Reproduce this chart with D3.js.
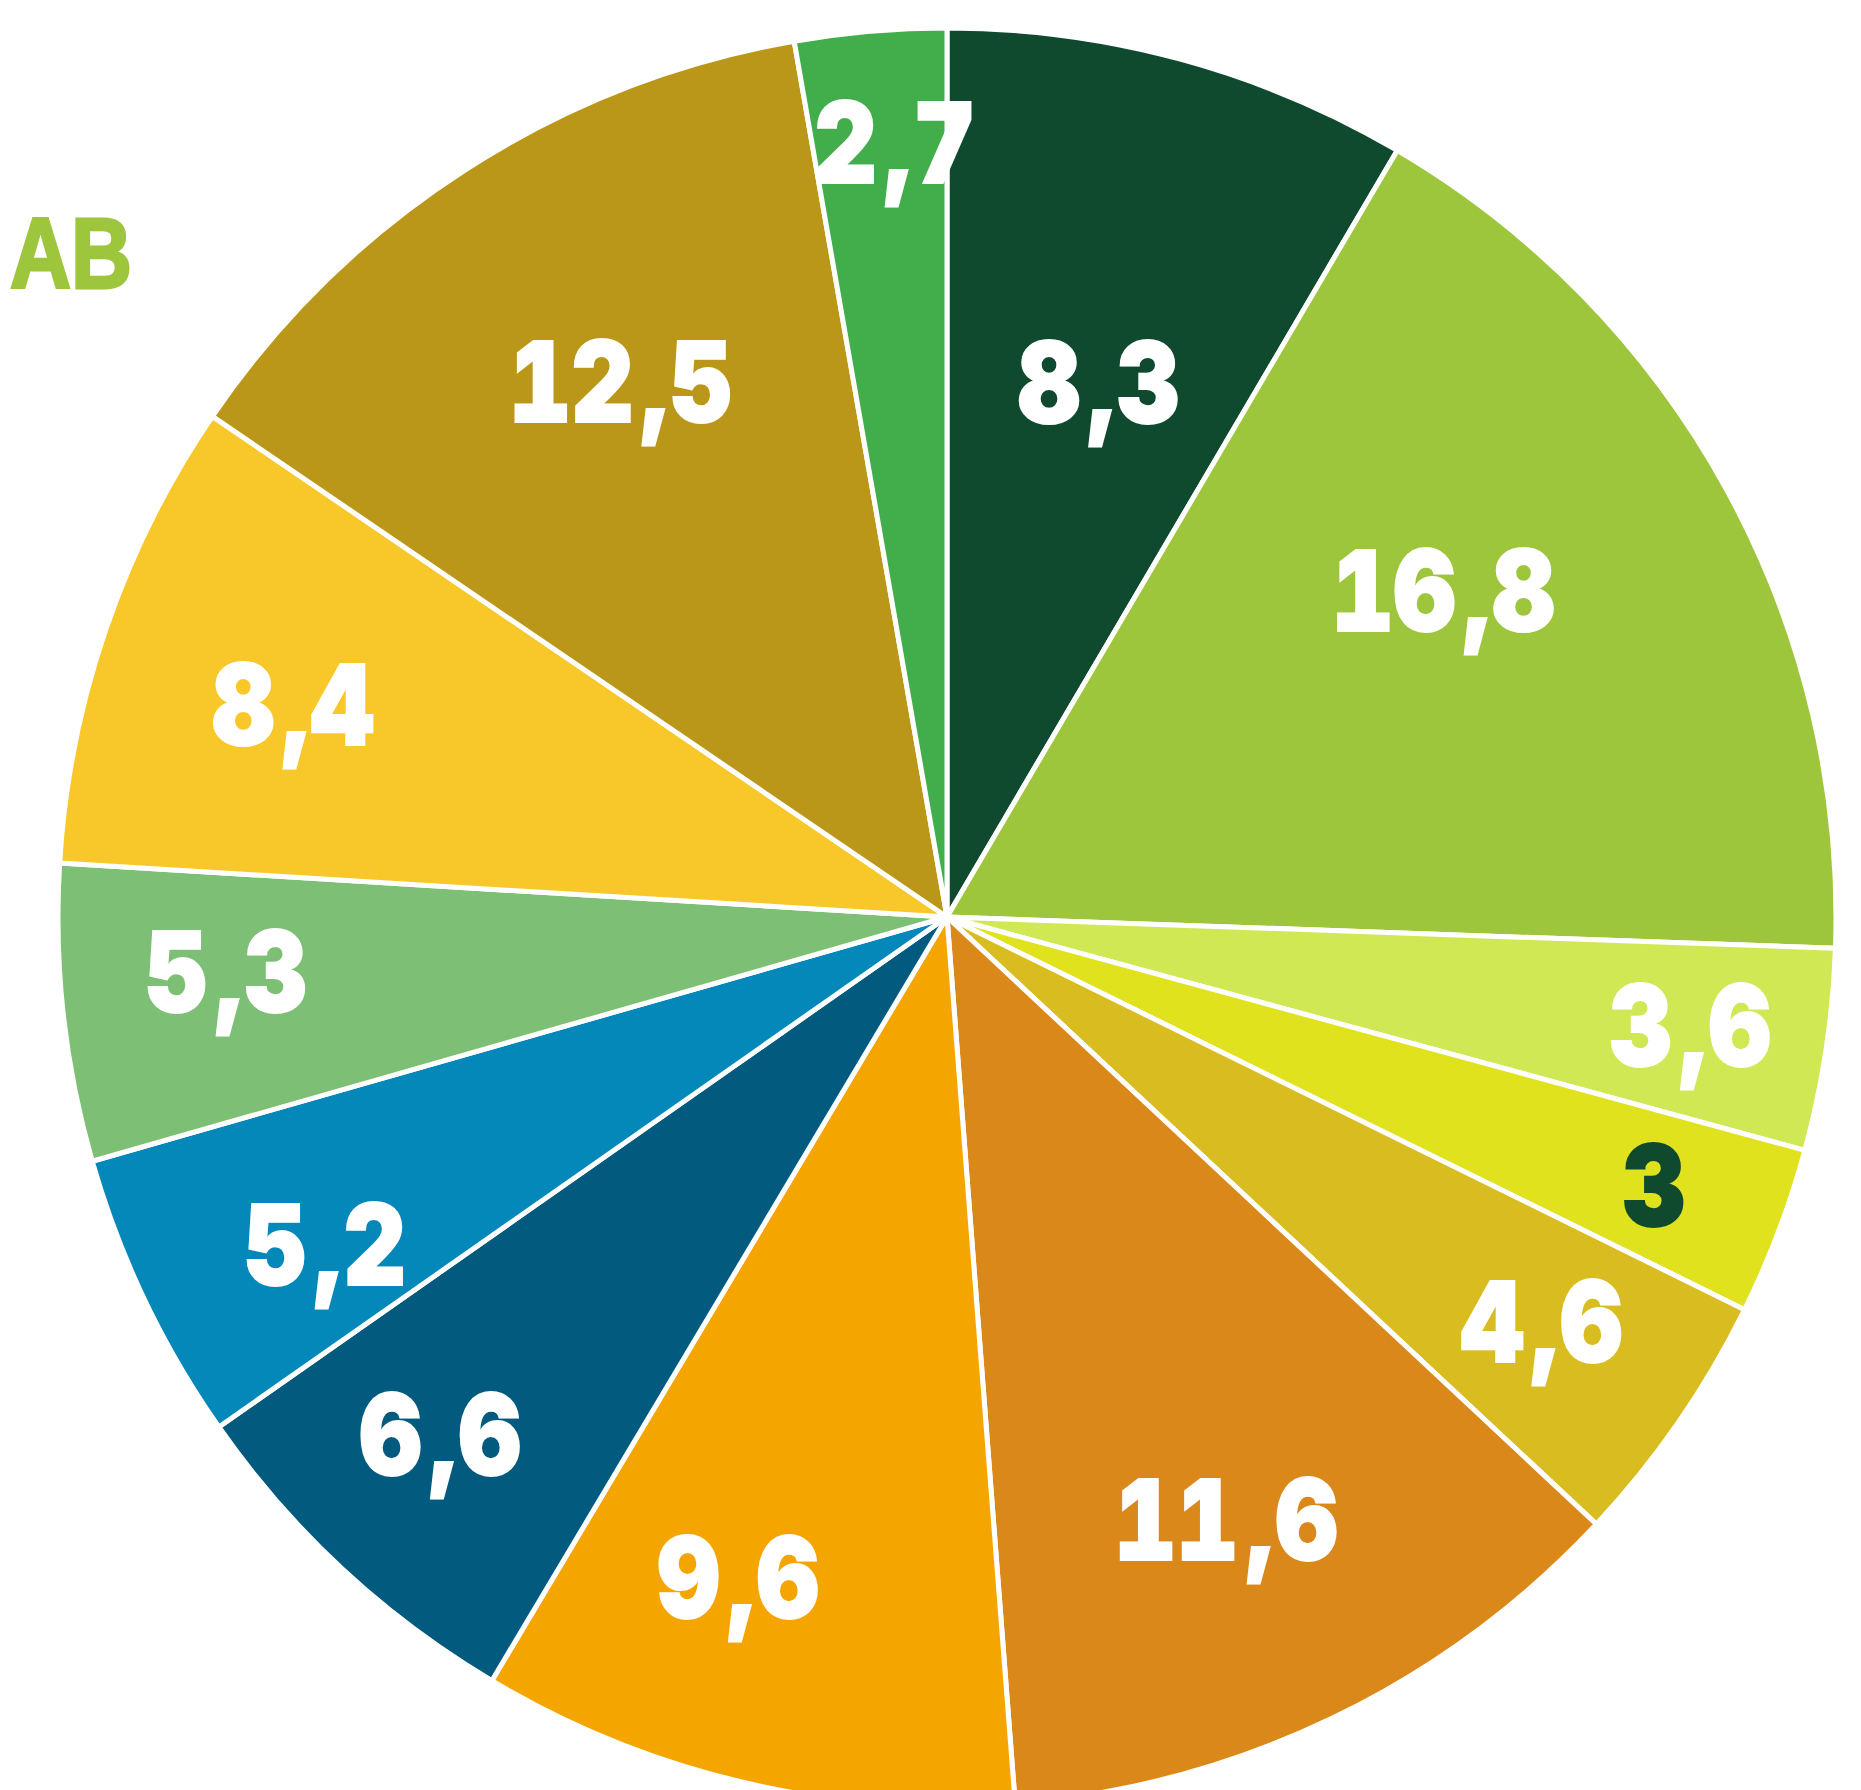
<!DOCTYPE html>
<html><head><meta charset="utf-8">
<script src="https://cdn.jsdelivr.net/npm/d3@7"></script>
<style>html,body{margin:0;padding:0;background:#fff;} svg{display:block}</style>
</head><body>
<script>
// ---- data ----
const values = [8.3, 16.8, 3.6, 3, 4.6, 11.6, 9.6, 6.6, 5.2, 5.3, 8.4, 12.5, 2.7];
const colors = ['#0f4a2e','#9dc63c','#cfe853','#dfe21c','#d9bd20','#db881a','#f5a500','#025b7e','#0388b9','#7dbf74','#f8c82a','#bb9719','#41ae4b'];
const labelColors = ['#fff','#fff','#fff','#0f4a2e','#fff','#fff','#fff','#fff','#fff','#fff','#fff','#fff','#fff'];
const title = 'AB';

// ---- layout (label placement relative to slice middle) ----
const labelRadius = [556, 594, 751, 756, 719, 664, 692, 724, 703, 723, 688, 627, 777];
const labelShift  = [0.6, -4.6, -0.35, 0.05, -0.46, 0.83, 4.37, 1.54, -2.3, 1.95, -0.85, 1.45, 1.11];

const W = 1861, H = 1790;
const cx = 947, cy = 917, R = 889;
const fontSize = 112;
const glyphStroke = 2;
const xScale = 0.86;
const commaGapBefore = 10, commaGapAfter = 3;

const svg = d3.select('body').append('svg').attr('width', W).attr('height', H);

const pie = d3.pie().sort(null).value(d => d);
const arcs = pie(values);
const arc = d3.arc().innerRadius(0).outerRadius(R);

const g = svg.append('g').attr('transform', `translate(${cx},${cy})`);

g.selectAll('path.slice').data(arcs).join('path')
  .attr('class', 'slice')
  .attr('d', arc)
  .attr('fill', (d, i) => colors[i])
  .attr('stroke', '#fff')
  .attr('stroke-width', 5)
  .attr('stroke-linejoin', 'round');

const fmt = v => String(v).replace('.', ',');

const labels = g.selectAll('text.lbl').data(arcs).join('text')
  .attr('class', 'lbl')
  .attr('transform', (d, i) => {
    const a = (d.startAngle + d.endAngle) / 2 + labelShift[i] * Math.PI / 180;
    const r = labelRadius[i];
    return `translate(${r * Math.sin(a)},${-r * Math.cos(a)}) scale(${xScale},1)`;
  })
  .attr('dy', fontSize * 0.364)
  .attr('text-anchor', 'middle')
  .attr('font-family', "Inter,'Liberation Sans',Arial,sans-serif")
  .attr('font-weight', 900)
  .attr('font-size', fontSize)
  .style('font-variant-numeric', 'tabular-nums')
  .attr('fill', (d, i) => labelColors[i])
  .attr('stroke', (d, i) => labelColors[i])
  .attr('stroke-width', glyphStroke)
  .attr('stroke-linejoin', 'miter');

labels.each(function(d) {
  const parts = fmt(d.data).split(',');
  const t = d3.select(this);
  t.append('tspan').text(parts[0]);
  if (parts.length > 1) {
    t.append('tspan').attr('dx', commaGapBefore).text(',');
    t.append('tspan').attr('dx', commaGapAfter).text(parts[1]);
  }
});

svg.append('text')
  .attr('x', 10).attr('y', 288)
  .attr('font-family', "'Liberation Sans',Arial,sans-serif")
  .attr('font-weight', 'bold')
  .attr('font-size', 100)
  .attr('textLength', 122)
  .attr('lengthAdjust', 'spacingAndGlyphs')
  .attr('fill', '#9dc63c')
  .attr('stroke', '#9dc63c')
  .attr('stroke-width', 3)
  .text(title);
</script>
</body></html>
